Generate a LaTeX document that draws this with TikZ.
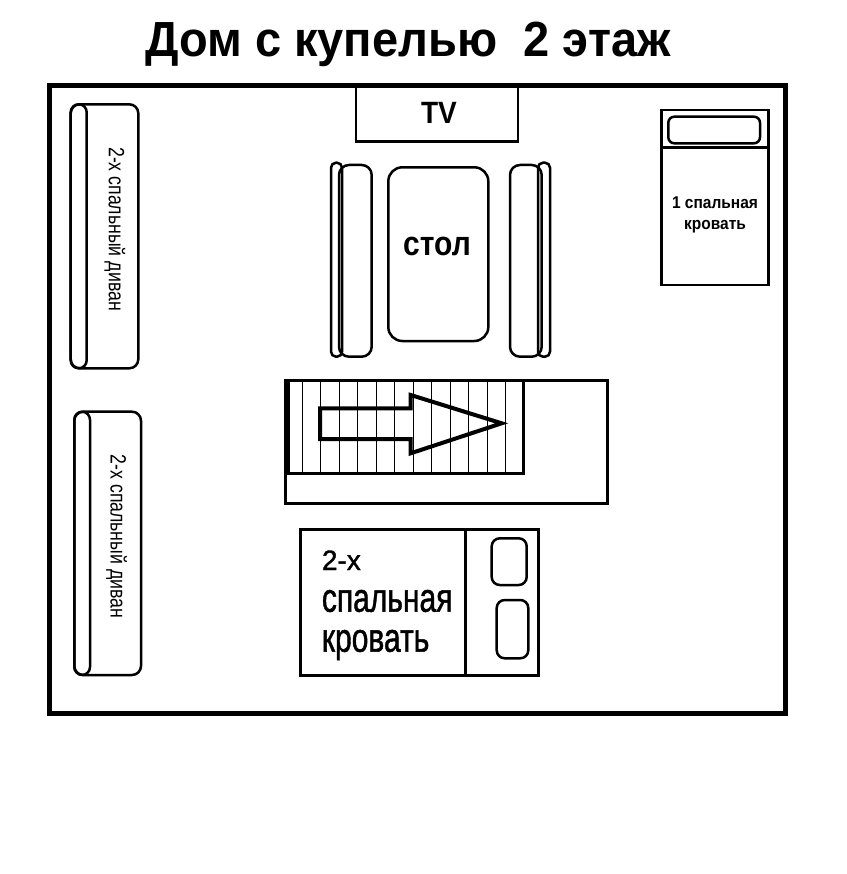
\documentclass[tikz,border=0pt]{standalone}
\usepackage{fontspec}
\setmainfont{Liberation Sans}
\newfontfamily\medfont[FakeBold=1.3]{Liberation Sans}
\begin{document}
\begin{tikzpicture}[x=1pt,y=-1pt,
  wall/.style={line width=5pt},
  furn/.style={line width=2.5pt},
  stairline/.style={line width=1pt},
  arrowshape/.style={line width=4pt, line join=miter},
  sofatext/.style={rotate=-90, inner sep=0pt, font=\fontsize{17.7}{20}\selectfont},
  bedtext/.style={anchor=base west, inner sep=0pt},
]
\useasboundingbox (0,0) rectangle (846,874);
% title
\node[anchor=base west, inner sep=0pt, font=\bfseries\fontsize{47}{50}\selectfont] (title) at (145,56.7) {\scalebox{1}[1.05]{Дом с купелью\ \ 2 этаж}};
% walls
\draw[wall] (49,85.5) rectangle (785,713);
% TV
\draw[furn] (356,86) rectangle (518,141.7);
\node[anchor=base, inner sep=0pt, font=\bfseries\fontsize{28}{30}\selectfont] (tv) at (439,124) {\scalebox{1}[1.1]{TV}};
% table
\draw[furn, rounded corners=14pt] (388.3,167.3) rectangle (488.3,341);
\node[anchor=base, inner sep=0pt, font=\bfseries\fontsize{30}{32}\selectfont] (stol) at (437,255) {\scalebox{1}[1.14]{стол}};
% chairs
\draw[furn, rounded corners=5pt] (331,162.7) rectangle (342,356.7);
\draw[furn, rounded corners=10pt] (339,165) rectangle (371.7,356.7);
\draw[furn, rounded corners=10pt] (510,165) rectangle (541.7,356.7);
\draw[furn, rounded corners=5pt] (538,162.7) rectangle (550,356.7);
% single bed
\draw[furn] (661.7,110) rectangle (768.3,285);
\draw[furn] (661.7,147.3) -- (768.3,147.3);
\draw[furn, rounded corners=6pt] (668.3,116.7) rectangle (760,143.3);
\node[anchor=base, inner sep=0pt, font=\bfseries\fontsize{15.5}{17}\selectfont] (bed1a) at (715,208.3) {\scalebox{1}[1.1]{1 спальная}};
\node[anchor=base, inner sep=0pt, font=\bfseries\fontsize{15.5}{17}\selectfont] (bed1b) at (715,230) {\scalebox{1}[1.1]{кровать}};
% sofas
\draw[furn, rounded corners=9pt] (70.7,104.3) rectangle (138.3,368.3);
\draw[furn, rounded corners=8pt] (70.7,104.3) rectangle (86.7,368.3);
\node[sofatext] (sofa1) at (115,229) {\scalebox{1}[1.25]{2-х спальный диван}};
\draw[furn, rounded corners=9pt] (74.3,411.7) rectangle (141,675);
\draw[furn, rounded corners=8pt] (74.3,411.7) rectangle (90,675);
\node[sofatext] (sofa2) at (116.7,536.5) {\scalebox{1}[1.25]{2-х спальный диван}};
% stairs
\draw[line width=3pt] (285,380) rectangle (607,503);
\draw[line width=3pt] (285,380) rectangle (523,473);
\foreach \k in {0,...,11} {
  \draw[stairline] ({302.3+18.5*\k},381) -- ({302.3+18.5*\k},472);
}
\draw[line width=5pt] (287.5,380) -- (287.5,473);
\draw[arrowshape] (320,408.3) -- (410.7,408.3) -- (410.7,395) -- (501.7,423.3) -- (410.7,453.3) -- (410.7,439) -- (320,439) -- cycle;
% double bed
\draw[line width=3pt] (300,529.3) rectangle (538.3,675);
\draw[line width=3pt] (465,529.3) -- (465,675);
\draw[furn, rounded corners=8pt] (491.7,538.3) rectangle (526.7,585);
\draw[furn, rounded corners=8pt] (496.7,600) rectangle (528.3,658.3);
\node[bedtext, font=\medfont\fontsize{28}{30}\selectfont] (bed2a) at (321.7,570) {2-х};
\node[bedtext, font=\medfont\fontsize{30}{32}\selectfont] (bed2b) at (321.7,611.7) {\scalebox{1}[1.35]{спальная}};
\node[bedtext, font=\medfont\fontsize{30}{32}\selectfont] (bed2c) at (321.7,651.7) {\scalebox{1}[1.35]{кровать}};
\end{tikzpicture}
\end{document}
